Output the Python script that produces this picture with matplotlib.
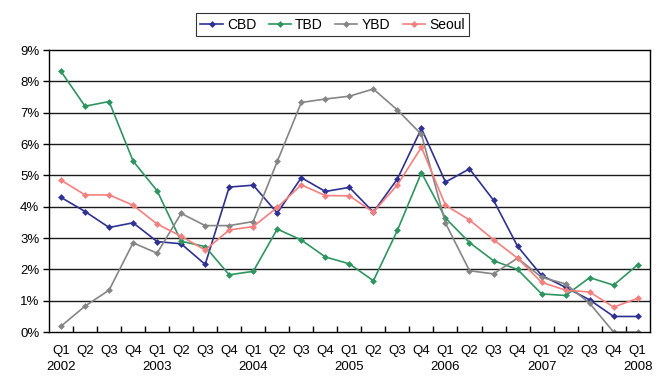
import numpy as np
import matplotlib
matplotlib.use("Agg")
from matplotlib import pyplot as plt
from matplotlib.ticker import FixedLocator, FuncFormatter

plt.rcParams['font.family'] = ['Liberation Sans', 'DejaVu Sans']

quarters = ['Q1', 'Q2', 'Q3', 'Q4'] * 6 + ['Q1']
years = ['2002', '2003', '2004', '2005', '2006', '2007', '2008']

# vacancy rates (%) by quarter, Q1 2002 .. Q1 2008
cbd = [4.30, 3.85, 3.34, 3.49, 2.89, 2.82, 2.16, 4.63, 4.69,
       3.80, 4.93, 4.49, 4.62, 3.83, 4.89, 6.50, 4.79,
       5.21, 4.21, 2.74, 1.81, 1.43, 1.03, 0.50, 0.50]
tbd = [8.32, 7.21, 7.36, 5.46, 4.51, 2.90, 2.73, 1.83, 1.94,
       3.29, 2.94, 2.40, 2.18, 1.64, 3.25, 5.09, 3.64,
       2.86, 2.28, 2.00, 1.22, 1.17, 1.74, 1.50, 2.15]
ybd = [0.19, 0.83, 1.34, 2.85, 2.52, 3.79, 3.40, 3.40, 3.53,
       5.45, 7.33, 7.44, 7.53, 7.76, 7.09, 6.31, 3.48,
       1.96, 1.86, 2.36, 1.75, 1.54, 0.92, 0.00, 0.00]
seoul = [4.85, 4.38, 4.38, 4.05, 3.45, 3.06, 2.62, 3.26, 3.37,
         3.98, 4.70, 4.36, 4.35, 3.83, 4.70, 5.90, 4.05,
         3.58, 2.95, 2.36, 1.59, 1.34, 1.28, 0.80, 1.08]

series = [('CBD', cbd, '#2e3192'), ('TBD', tbd, '#2e9560'),
          ('YBD', ybd, '#858585'), ('Seoul', seoul, '#f47f7f')]

fig = plt.figure(figsize=(6.65, 3.77), dpi=100)
ax = fig.add_axes([0.0737, 0.119, 0.9033, 0.748])

x = np.arange(len(quarters))
for name, vals, col in series:
    ax.plot(x, vals, color=col, lw=1.2, marker='D', markersize=3.5,
            markeredgewidth=0, label=name)

ax.set_xlim(-0.5, len(quarters) - 0.5)
ax.set_ylim(0, 9)

ax.set_yticks(np.arange(0, 10, 1))
ax.yaxis.set_major_formatter(FuncFormatter(lambda v, p: f'{int(v)}%'))
ax.tick_params(axis='y', direction='out', length=4, width=1, labelsize=9.5, pad=3)
for v in range(1, 9):
    ax.axhline(v, color='#1a1a1a', lw=1, zorder=0)

labels = []
yi = 0
for i, q in enumerate(quarters):
    if q == 'Q1':
        labels.append(q + '\n' + years[yi])
        yi += 1
    else:
        labels.append(q)
ax.set_xticks(x)
ax.set_xticklabels(labels, fontsize=9.5, va='top', linespacing=1.45)
ax.tick_params(axis='x', which='major', length=0, pad=9)
ax.xaxis.set_minor_locator(FixedLocator(np.arange(0.5, len(quarters) - 0.5, 1)))
ax.tick_params(axis='x', which='minor', direction='in', length=4, width=1)

for s in ax.spines.values():
    s.set_color('black')
    s.set_linewidth(1)

leg = fig.legend(loc='center', bbox_to_anchor=(0.5, 0.935), ncol=4,
                 fontsize=10, frameon=True, fancybox=False, edgecolor='black',
                 handlelength=1.6, handletextpad=0.3, columnspacing=0.9,
                 borderpad=0.3)
leg.get_frame().set_linewidth(0.8)

fig.savefig('out.png', dpi=100)
